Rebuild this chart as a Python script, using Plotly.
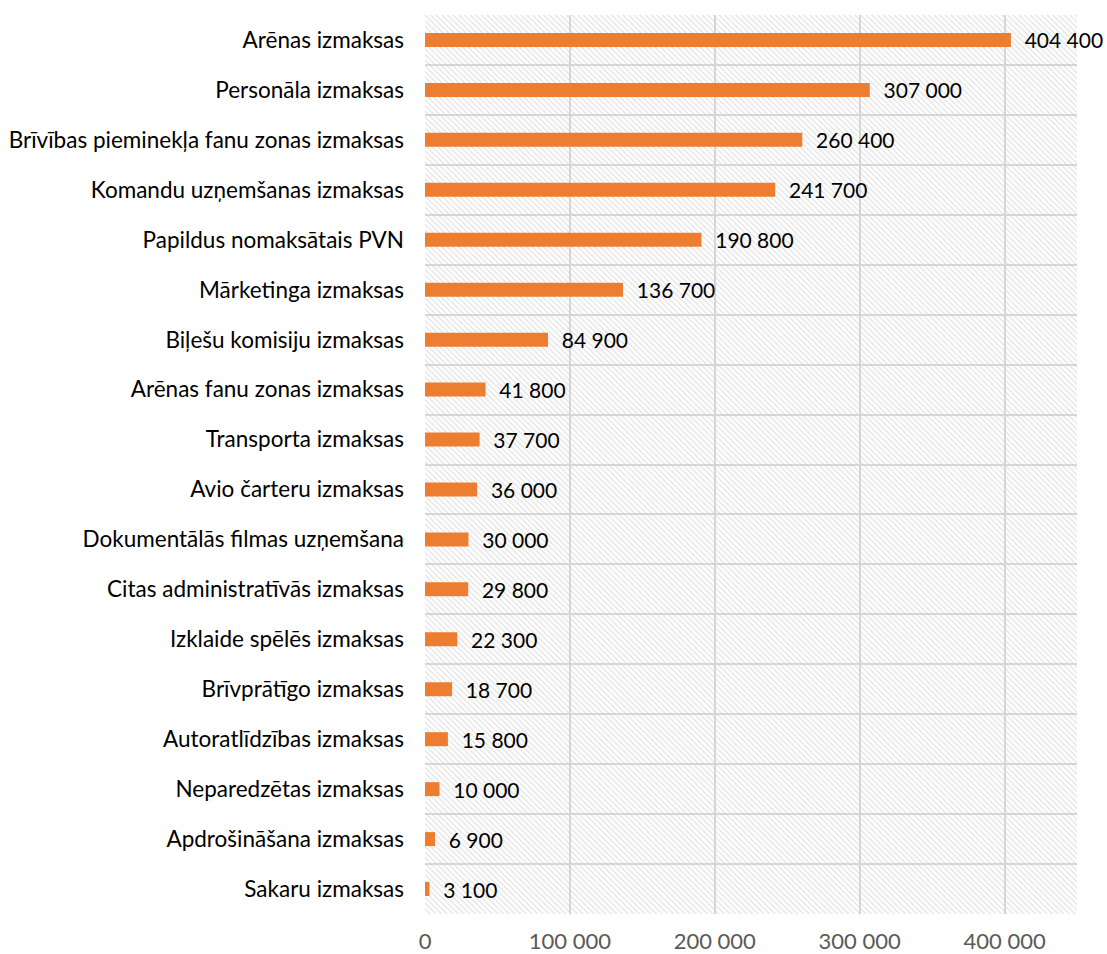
import plotly.graph_objects as go

categories = [
    "Arēnas izmaksas",
    "Personāla izmaksas",
    "Brīvības pieminekļa fanu zonas izmaksas",
    "Komandu uzņemšanas izmaksas",
    "Papildus nomaksātais PVN",
    "Mārketinga izmaksas",
    "Biļešu komisiju izmaksas",
    "Arēnas fanu zonas izmaksas",
    "Transporta izmaksas",
    "Avio čarteru izmaksas",
    "Dokumentālās filmas uzņemšana",
    "Citas administratīvās izmaksas",
    "Izklaide spēlēs izmaksas",
    "Brīvprātīgo izmaksas",
    "Autoratlīdzības izmaksas",
    "Neparedzētas izmaksas",
    "Apdrošināšana izmaksas",
    "Sakaru izmaksas",
]
values = [404400, 307000, 260400, 241700, 190800, 136700, 84900, 41800, 37700,
          36000, 30000, 29800, 22300, 18700, 15800, 10000, 6900, 3100]
tick_vals = [0, 100000, 200000, 300000, 400000]
tick_text = ["0", "100 000", "200 000", "300 000", "400 000"]
x_max = 450000

labels = [f"{v:,}".replace(",", " ") for v in values]

FONT = "Lato, 'Open Sans', sans-serif"
FS = 22

fig = go.Figure()
# hatched plot background
fig.add_trace(go.Bar(
    y=categories, x=[x_max] * len(categories), orientation="h", width=1,
    marker=dict(color="rgba(0,0,0,0)", line=dict(width=0),
                pattern=dict(shape="\\", fgcolor="#c4c4c4", bgcolor="rgba(0,0,0,0)",
                             size=4, solidity=0.3)),
    hoverinfo="skip", showlegend=False,
))
fig.add_trace(go.Bar(
    y=categories, x=values, orientation="h", width=0.28,
    marker=dict(color="#ED7D31", line=dict(width=0)),
    text=labels, texttemplate="  %{text}", textposition="outside",
    constraintext="none",
    textfont=dict(family=FONT, size=21, color="#000000"),
    cliponaxis=False, showlegend=False,
))

fig.update_layout(
    width=1107, height=954,
    margin=dict(l=425, r=30, t=15, b=40, autoexpand=False),
    paper_bgcolor="white", plot_bgcolor="white",
    barmode="overlay",
    font=dict(family=FONT, size=FS, color="#000000"),
    showlegend=False,
)
fig.update_xaxes(
    range=[0, x_max], tickvals=tick_vals, ticktext=tick_text,
    showgrid=True, gridcolor="#d9d9d9", gridwidth=2,
    zeroline=False, showline=False, automargin=False,
    tickfont=dict(family=FONT, size=FS, color="#595959"),
    ticks="", ticklabelstandoff=12,
)
fig.update_yaxes(
    type="category", autorange="reversed", tickson="boundaries",
    showgrid=True, gridcolor="#d9d9d9", gridwidth=2,
    ticks="", showline=False, zeroline=False, automargin=False,
    tickfont=dict(family=FONT, size=22.5, color="#000000"),
    ticklabelstandoff=20,
)

fig.write_html(
    "out.html",
    config={"displayModeBar": False},
    post_script="document.body.style.margin='0';document.body.style.overflow='hidden';",
)
